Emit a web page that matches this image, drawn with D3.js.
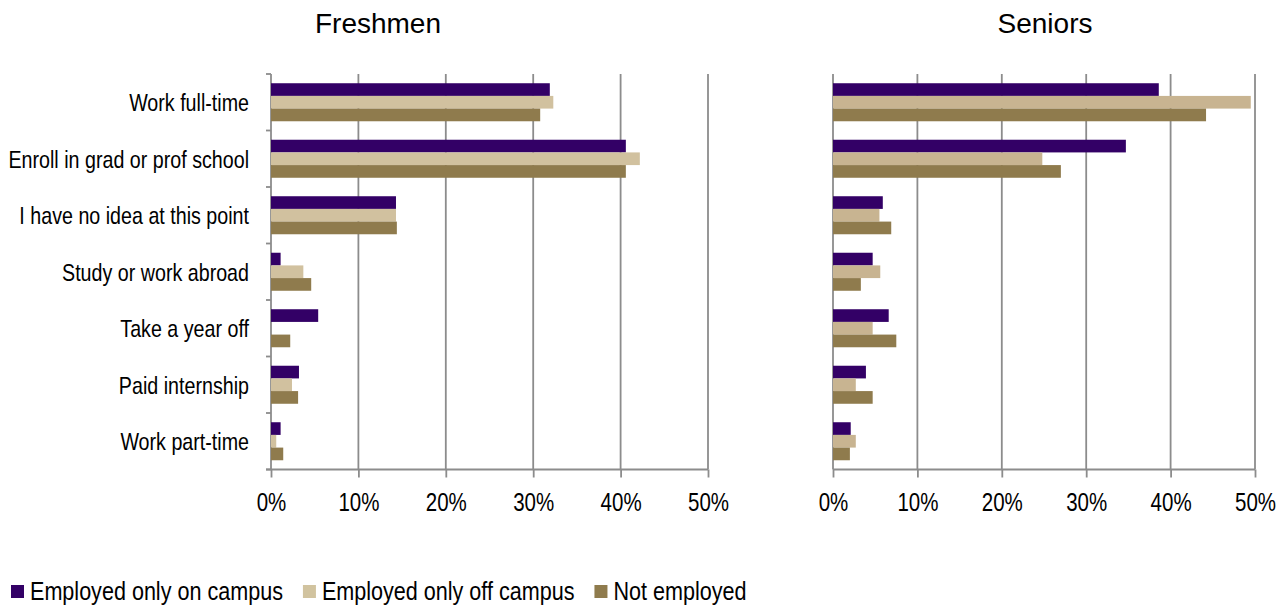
<!DOCTYPE html>
<html>
<head>
<meta charset="utf-8">
<script src="https://cdn.jsdelivr.net/npm/d3@7"></script>
<style>
  html, body { margin: 0; padding: 0; background: #ffffff; }
  svg { display: block; }
  text { font-family: "Liberation Sans", Arial, sans-serif; fill: #000; }
</style>
</head>
<body>
<svg id="chart" width="1286" height="607"></svg>
<script>
// Post-graduation plans by campus employment status
const categories = [
  "Work full-time",
  "Enroll in grad or prof school",
  "I have no idea at this point",
  "Study or work abroad",
  "Take a year off",
  "Paid internship",
  "Work part-time"
];
const seriesNames = ["Employed only on campus", "Employed only off campus", "Not employed"];

// Percent of respondents
const freshmenOnCampus    = [31.9, 40.6, 14.3, 1.1, 5.4, 3.2, 1.1];
const freshmenOffCampus   = [32.3, 42.2, 14.3, 3.7, 0.0, 2.4, 0.6];
const freshmenNotEmployed = [30.8, 40.6, 14.4, 4.6, 2.2, 3.1, 1.4];

const seniorsOnCampus     = [38.6, 34.7, 5.9, 4.7, 6.6, 3.9, 2.1];
const seniorsOffCampus    = [49.5, 24.8, 5.5, 5.6, 4.7, 2.7, 2.7];
const seniorsNotEmployed  = [44.2, 27.0, 6.9, 3.3, 7.5, 4.7, 2.0];

const xTicks = [0, 10, 20, 30, 40, 50];
const panelTitles = ["Freshmen", "Seniors"];

const svg = d3.select("#chart");
const gridColor = "#8c8c8c";
const NARROW = 0.82; // horizontal squeeze for the condensed label face

const panels = [
  {
    title: panelTitles[0], titleX: 378,
    x0: 271, x1: 708, showLabels: true,
    series: [freshmenOnCampus, freshmenOffCampus, freshmenNotEmployed],
    colors: ["#330066", "#D1C19F", "#8F7B4D"]
  },
  {
    title: panelTitles[1], titleX: 1045,
    x0: 833, x1: 1255, showLabels: false,
    series: [seniorsOnCampus, seniorsOffCampus, seniorsNotEmployed],
    colors: ["#330066", "#C8B491", "#8F7B4D"]
  }
];

const yTop = 74, yBottom = 469.5;

panels.forEach(p => {
  const g = svg.append("g");

  const x = d3.scaleLinear().domain([0, 50]).range([p.x0, p.x1]);
  const y = d3.scaleBand().domain(categories).range([yTop, yBottom])
    .paddingInner(0.327).paddingOuter(0.1635);
  const ySub = d3.scaleBand().domain(d3.range(seriesNames.length)).range([0, y.bandwidth()]);

  // Title
  g.append("text")
    .attr("x", p.titleX).attr("y", 33)
    .attr("text-anchor", "middle")
    .style("font-size", "28px")
    .text(p.title);

  // Vertical gridlines (the 0% line doubles as the category axis)
  g.selectAll("line.grid").data(xTicks).join("line")
    .attr("class", "grid")
    .attr("x1", d => x(d)).attr("x2", d => x(d))
    .attr("y1", yTop).attr("y2", yBottom)
    .attr("stroke", gridColor).attr("stroke-width", 1.8);

  // Bottom value axis
  const xAxis = d3.axisBottom(x).tickValues(xTicks)
    .tickFormat(d => d + "%").tickSize(8).tickSizeOuter(0).tickPadding(8);
  const ax = g.append("g").attr("transform", `translate(0,${yBottom})`).call(xAxis);
  ax.select(".domain").attr("stroke", gridColor).attr("stroke-width", 1.8)
    .attr("d", `M${p.x0 - (p.showLabels ? 5 : 0)},0H${p.x1}`);
  ax.selectAll(".tick line").attr("stroke", gridColor).attr("stroke-width", 1.8);
  ax.selectAll(".tick text")
    .attr("y", 42).attr("dy", null)
    .attr("transform", `scale(${NARROW},1)`)
    .style("font-family", "'Liberation Sans', Arial, sans-serif")
    .style("font-size", "25px").attr("fill", "#000");

  // Category axis ticks at band boundaries
  if (p.showLabels) {
    const bounds = categories.map(c => y(c) - y.step() * y.paddingOuter());
    bounds.push(yBottom);
    g.selectAll("line.cat").data(bounds).join("line")
      .attr("class", "cat")
      .attr("x1", p.x0 - 5).attr("x2", p.x0)
      .attr("y1", d => d).attr("y2", d => d)
      .attr("stroke", gridColor).attr("stroke-width", 1.8);

    g.selectAll("text.cat").data(categories).join("text")
      .attr("class", "cat")
      .attr("transform", c => `translate(249,${y(c) + y.bandwidth() / 2 + 9}) scale(${NARROW},1)`)
      .attr("text-anchor", "end")
      .style("font-size", "24px")
      .text(c => c);
  }

  // Bars
  p.series.forEach((vals, si) => {
    g.selectAll(`rect.s${si}`).data(vals).join("rect")
      .attr("class", `s${si}`)
      .attr("x", x(0))
      .attr("y", (d, i) => y(categories[i]) + ySub(si))
      .attr("width", d => x(d) - x(0))
      .attr("height", ySub.bandwidth())
      .attr("fill", p.colors[si]);
  });
});

// Legend
const legendColors = ["#330066", "#D1C39F", "#8F7B4D"];
const legend = svg.append("g");
let lx = 11;
seriesNames.forEach((name, i) => {
  legend.append("rect")
    .attr("x", lx).attr("y", 585).attr("width", 13).attr("height", 13)
    .attr("fill", legendColors[i]);
  const t = legend.append("text")
    .attr("transform", `translate(${lx + 19},600) scale(0.83,1)`)
    .style("font-size", "26px")
    .text(name);
  const w = t.node().getComputedTextLength() * 0.83;
  lx += 19 + w + 20;
});
</script>
</body>
</html>
